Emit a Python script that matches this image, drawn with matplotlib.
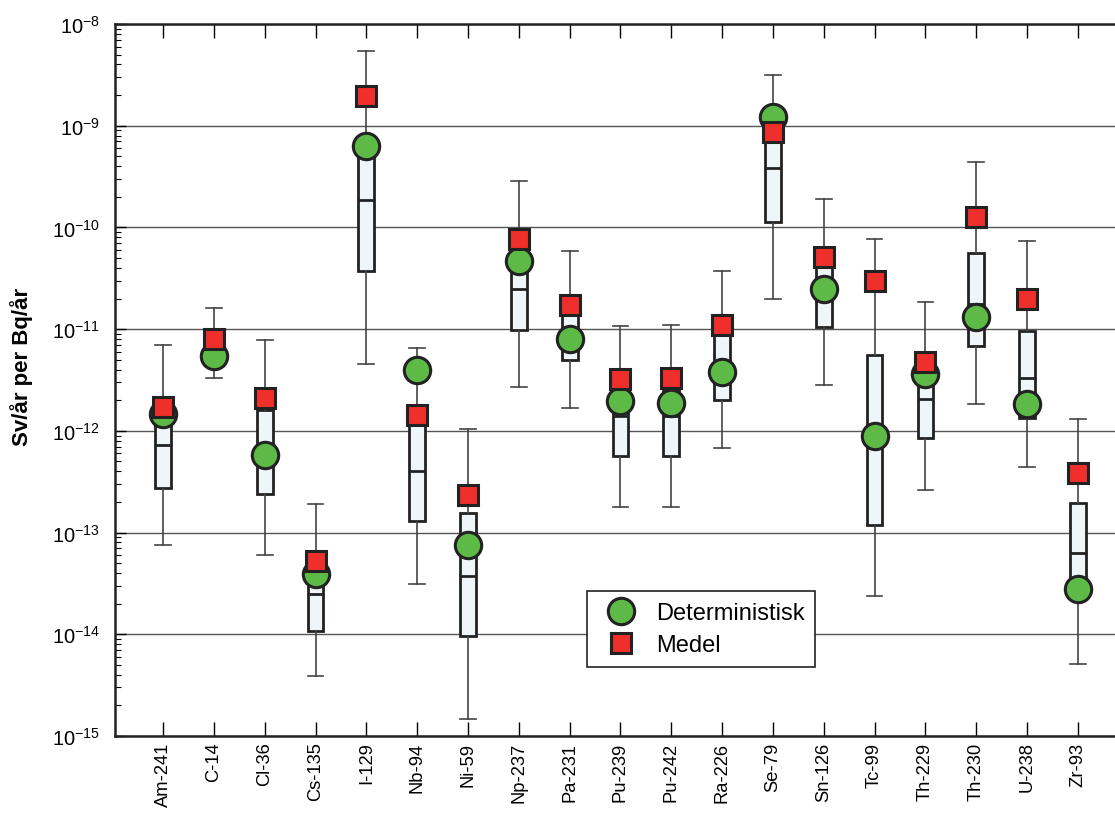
import numpy as np
import matplotlib
matplotlib.use("Agg")
import matplotlib.pyplot as plt
from matplotlib.lines import Line2D
from matplotlib.ticker import LogLocator, NullFormatter

plt.rcParams["font.family"] = ["Liberation Sans", "DejaVu Sans"]
plt.rcParams["mathtext.fontset"] = "custom"
plt.rcParams["mathtext.rm"] = "Liberation Sans"
plt.rcParams["mathtext.it"] = "Liberation Sans:italic"
plt.rcParams["mathtext.bf"] = "Liberation Sans:bold"

# nuclides along the x axis
nuclides = ["Am-241", "C-14", "Cl-36", "Cs-135", "I-129", "Nb-94", "Ni-59",
            "Np-237", "Pa-231", "Pu-239", "Pu-242", "Ra-226", "Se-79",
            "Sn-126", "Tc-99", "Th-229", "Th-230", "U-238", "Zr-93"]

# probabilistic spread: whisker ends, quartiles and median (Sv/år per Bq/år)
whisker_lo = [7.5e-14, 3.3e-12, 6.0e-14, 3.9e-15, 4.5e-12, 3.1e-14, 1.47e-15,
              2.7e-12, 1.67e-12, 1.78e-13, 1.8e-13, 6.8e-13, 2.0e-11,
              2.8e-12, 2.4e-14, 2.6e-13, 1.84e-12, 4.4e-13, 5.1e-15]
q1 = [2.75e-13, 4.5e-12, 2.4e-13, 1.07e-14, 3.7e-11, 1.3e-13, 9.6e-15,
      9.8e-12, 5.0e-12, 5.6e-13, 5.6e-13, 2.0e-12, 1.13e-10,
      1.05e-11, 1.2e-13, 8.5e-13, 6.8e-12, 1.34e-12, 3.2e-14]
median = [7.2e-13, 6.0e-12, 5.5e-13, 2.5e-14, 1.86e-10, 4.0e-13, 3.7e-14,
          2.5e-11, 8.0e-12, 1.4e-12, 1.4e-12, 4.0e-12, 3.84e-10,
          2.5e-11, 9.0e-13, 2.06e-12, 1.77e-11, 3.3e-12, 6.3e-14]
q3 = [1.5e-12, 7.5e-12, 1.6e-12, 3.3e-14, 5.0e-10, 1.15e-12, 1.55e-13,
      6.0e-11, 1.38e-11, 2.6e-12, 2.6e-12, 9.0e-12, 7.0e-10,
      4.5e-11, 5.6e-12, 3.5e-12, 5.6e-11, 9.5e-12, 1.95e-13]
whisker_hi = [7.0e-12, 1.6e-11, 7.8e-12, 1.9e-13, 5.4e-9, 6.5e-12, 1.05e-12,
              2.86e-10, 5.8e-11, 1.07e-11, 1.1e-11, 3.7e-11, 3.15e-9,
              1.9e-10, 7.7e-11, 1.85e-11, 4.4e-10, 7.3e-11, 1.3e-12]

# deterministic case and mean of the probabilistic runs
deterministic = [1.46e-12, 5.4e-12, 5.8e-13, 3.9e-14, 6.3e-10, 4.0e-12, 7.5e-14,
                 4.7e-11, 8.0e-12, 1.96e-12, 1.9e-12, 3.8e-12, 1.22e-9,
                 2.5e-11, 8.9e-13, 3.6e-12, 1.32e-11, 1.84e-12, 2.8e-14]
mean = [1.71e-12, 8.0e-12, 2.1e-12, 5.3e-14, 1.96e-9, 1.43e-12, 2.34e-13,
        7.7e-11, 1.73e-11, 3.2e-12, 3.3e-12, 1.1e-11, 8.7e-10,
        5.1e-11, 3.0e-11, 4.8e-12, 1.27e-10, 2.0e-11, 3.85e-13]

green = "#5dba47"
red = "#ee2f2b"
edge = "#222222"

fig = plt.figure(figsize=(11.15, 8.2), dpi=100)
ax = fig.add_axes([115 / 1115, 83 / 820, 1000 / 1115, 712 / 820])

x = np.arange(1, len(nuclides) + 1)
stats = []
for i in range(len(nuclides)):
    stats.append(dict(whislo=whisker_lo[i], q1=q1[i], med=median[i],
                      q3=q3[i], whishi=whisker_hi[i], fliers=[]))

bw = 0.31
ax.bxp(stats, positions=x, widths=bw, capwidths=bw, showfliers=False,
       patch_artist=True, manage_ticks=False,
       boxprops=dict(facecolor="#eef6f9", edgecolor=edge, linewidth=2.0),
       medianprops=dict(color=edge, linewidth=2.0),
       whiskerprops=dict(color="#444444", linewidth=1.2),
       capprops=dict(color="#444444", linewidth=1.2),
       zorder=3)

ax.plot(x, deterministic, "o", ms=19, mfc=green, mec=edge, mew=2.2,
        ls="none", zorder=4)
ax.plot(x, mean, "s", ms=14, mfc=red, mec=edge, mew=2.2,
        ls="none", zorder=5)

ax.set_yscale("log")
ax.set_ylim(1e-15, 1e-8)
ax.set_xlim(0.055, 19.73)

ax.yaxis.set_major_locator(LogLocator(base=10, numticks=20))
ax.yaxis.set_minor_locator(LogLocator(base=10, subs=np.arange(2, 10), numticks=20))
ax.yaxis.set_minor_formatter(NullFormatter())
ax.tick_params(axis="y", which="major", direction="in", length=8, width=1,
               labelsize=14.5, pad=11, right=False)
ax.tick_params(axis="y", which="minor", direction="in", length=4, width=0.8,
               right=False)

ax.set_xticks(x)
ax.set_xticklabels(nuclides, rotation=90, fontsize=13.2)
ax.tick_params(axis="x", direction="in", length=10, width=1, top=True,
               pad=4)

ax.grid(True, axis="y", which="major", color="#555555", linewidth=1.0,
        zorder=0)
ax.set_axisbelow(True)

for side in ["left", "bottom", "top"]:
    ax.spines[side].set_linewidth(1.8)
    ax.spines[side].set_color("#222222")
ax.spines["right"].set_visible(False)

ax.set_ylabel("Sv/år per Bq/år", fontsize=16, fontweight="bold")
ax.yaxis.set_label_coords(-0.082, 0.52)

handles = [
    Line2D([], [], marker="o", ls="none", ms=19, mfc=green, mec=edge, mew=2.2),
    Line2D([], [], marker="s", ls="none", ms=14, mfc=red, mec=edge, mew=2.2),
]
leg = ax.legend(handles, ["Deterministisk", "Medel"], loc="upper left",
                bbox_to_anchor=(0.472, 0.203), fontsize=17, frameon=True,
                fancybox=False, edgecolor="#222222", framealpha=1,
                borderpad=0.45, labelspacing=0.42, handletextpad=0.5,
                handlelength=1.97, borderaxespad=0)
leg.get_frame().set_linewidth(1.2)

fig.savefig("out.png", dpi=100)
